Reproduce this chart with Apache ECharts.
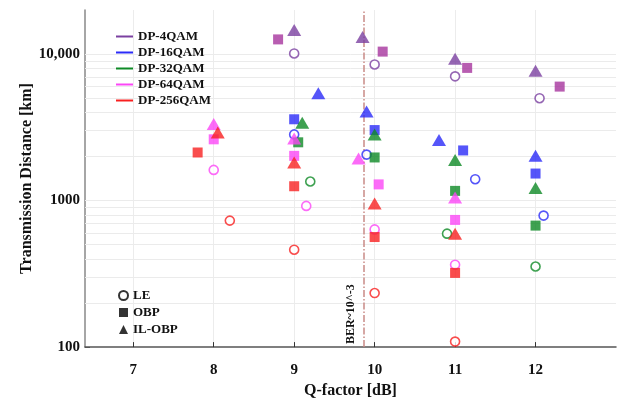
<!DOCTYPE html>
<html><head><meta charset="utf-8">
<script src="https://cdn.jsdelivr.net/npm/echarts@6/dist/echarts.min.js"></script>
<style>html,body{margin:0;padding:0;background:#fff}#c{width:621px;height:404px}</style>
</head><body><div id="c"></div>
<script>
// ---- data: [Q-factor dB, distance km] ----
const qam4_LE    = [[9.0,10100],[10.0,8500],[11.0,7050],[12.05,5000]];
const qam4_OBP   = [[8.8,12600],[10.1,10400],[11.15,8050],[12.3,6000]];
const qam4_IL    = [[9.0,14600],[9.85,13100],[11.0,9300],[12.0,7700]];
const qam16_LE   = [[9.0,2830],[9.9,2060],[11.25,1400],[12.1,790]];
const qam16_OBP  = [[9.0,3590],[10.0,3030],[11.1,2200],[12.0,1530]];
const qam16_IL   = [[9.3,5400],[9.9,4050],[10.8,2590],[12.0,2020]];
const qam32_LE   = [[9.2,1350],[10.9,595],[12.0,355]];
const qam32_OBP  = [[9.05,2500],[10.0,1970],[11.0,1165],[12.0,675]];
const qam32_IL   = [[9.1,3400],[10.0,2830],[11.0,1890],[12.0,1220]];
const qam64_LE   = [[8.0,1620],[9.15,920],[10.0,636],[11.0,365]];
const qam64_OBP  = [[8.0,2620],[9.0,2020],[10.05,1290],[11.0,738]];
const qam64_IL   = [[8.0,3330],[9.0,2650],[9.8,1940],[11.0,1050]];
const qam256_LE  = [[8.2,730],[9.0,462],[10.0,234],[11.0,109]];
const qam256_OBP = [[7.8,2130],[9.0,1253],[10.0,564],[11.0,321]];
const qam256_IL  = [[8.05,2920],[9.0,1820],[10.0,955],[11.0,595]];

const modNames = ['DP-4QAM','DP-16QAM','DP-32QAM','DP-64QAM','DP-256QAM'];
const typeNames = ['LE','OBP','IL-OBP'];
const xTicks = [7,8,9,10,11,12];
const yTicks = [100,1000,10000];
const yGridLines = [200,300,400,500,600,700,800,900,1000,2000,3000,4000,5000,6000,7000,8000,9000,10000];
const berQ = 9.86;
const berLabel = 'BER~10^-3';

// ---- styling ----
const modColors = ['#7b40a0','#2b2bf8','#0e8a26','#fb46f6','#f82020'];
const squareColors = ['#a6349e','#2b2bf8','#0e8a26','#fb46f6','#f82020'];
const serif = '"Liberation Serif", "DejaVu Serif", serif';
const seriesData = [
  [qam4_LE, qam4_OBP, qam4_IL],
  [qam16_LE, qam16_OBP, qam16_IL],
  [qam32_LE, qam32_OBP, qam32_IL],
  [qam64_LE, qam64_OBP, qam64_IL],
  [qam256_LE, qam256_OBP, qam256_IL]
];

function symbolStyle(t, color) {
  if (t === 0) return {symbol:'circle', symbolSize:9, itemStyle:{color:'#fff', borderColor:color, borderWidth:1.6}};
  if (t === 1) return {symbol:'rect', symbolSize:10, itemStyle:{color:color}};
  return {symbol:'triangle', symbolSize:[14,12], itemStyle:{color:color}};
}

const series = [];
// grid helper
series.push({
  type:'scatter', data:[], silent:true, z:1,
  markLine:{silent:true, z:1, symbol:['none','none'], label:{show:false},
    lineStyle:{color:'#ebebeb', width:1, type:'solid'},
    data: yGridLines.map(v=>({yAxis:v}))}
});
seriesData.forEach((arr, m) => {
  arr.forEach((d, t) => {
    const col = t === 1 ? squareColors[m] : modColors[m];
    series.push(Object.assign({type:'scatter', name: modNames[m]+' '+typeNames[t], data:d, z:5}, symbolStyle(t, col)));
  });
});
// BER line
series.push({
  type:'scatter', data:[], z:2,
  markLine:{silent:true, z:2, symbol:['none','none'],
    lineStyle:{color:'#c98a86', width:1.5, type:[7,2,1.5,2]},
    label:{show:true, formatter:berLabel, position:'insideStartTop', distance:[3,6],
      color:'#111', fontFamily:serif, fontWeight:'bold', fontSize:12},
    data:[{xAxis:berQ}]}
});
// legend helpers
modNames.forEach((n, m) => series.push({type:'line', name:n, data:[], symbol:'none', lineStyle:{color:modColors[m], width:2}, itemStyle:{color:modColors[m]}}));
typeNames.forEach((n, t) => series.push(Object.assign({type:'scatter', name:n, data:[]}, symbolStyle(t, '#000'))));

const chart = echarts.init(document.getElementById('c'), null, {renderer:'canvas'});
chart.setOption({
  animation:false,
  backgroundColor:'#fff',
  grid:{left:85, right:5, top:10, bottom:56},
  xAxis:{type:'value', min:6.4, max:13,
    name:'Q-factor [dB]', nameLocation:'middle', nameGap:32,
    nameTextStyle:{fontFamily:serif, fontWeight:'bold', fontSize:16, color:'#111'},
    axisLine:{lineStyle:{color:'#555', width:1.5}},
    axisTick:{show:true, inside:true, length:5, customValues:xTicks, lineStyle:{color:'#333'}},
    axisLabel:{customValues:xTicks, margin:16, fontFamily:serif, fontWeight:'bold', fontSize:15, color:'#111'},
    splitLine:{show:true, lineStyle:{color:'#ececec'}}
  },
  yAxis:{type:'log', logBase:10, min:100, max:20000,
    name:'Transmission Distance [km]', nameLocation:'middle', nameGap:50, nameMoveOverlap:false,
    nameTextStyle:{fontFamily:serif, fontWeight:'bold', fontSize:16, color:'#111'},
    axisLine:{show:true, lineStyle:{color:'#888', width:1.5}},
    axisTick:{show:true, inside:true, length:5, customValues:yTicks, lineStyle:{color:'#555'}},
    axisLabel:{customValues:yTicks, margin:5, fontFamily:serif, fontWeight:'bold', fontSize:15, color:'#111',
      formatter:v => v >= 10000 ? String(v).replace(/\B(?=(\d{3})+(?!\d))/g, ',') : String(v)},
    splitLine:{show:false}
  },
  legend:[
    {data:modNames.map(n=>({name:n, icon:'rect'})), orient:'vertical', left:111, top:25, itemWidth:17, itemHeight:2, itemGap:3,
      textStyle:{fontFamily:serif, fontWeight:'bold', fontSize:13, color:'#111'}, selectedMode:false},
    {data:typeNames, orient:'vertical', left:113, top:284, itemWidth:9, itemHeight:9, itemGap:4,
      textStyle:{fontFamily:serif, fontWeight:'bold', fontSize:13, color:'#111'}, selectedMode:false}
  ],
  series:series
});
</script></body></html>
